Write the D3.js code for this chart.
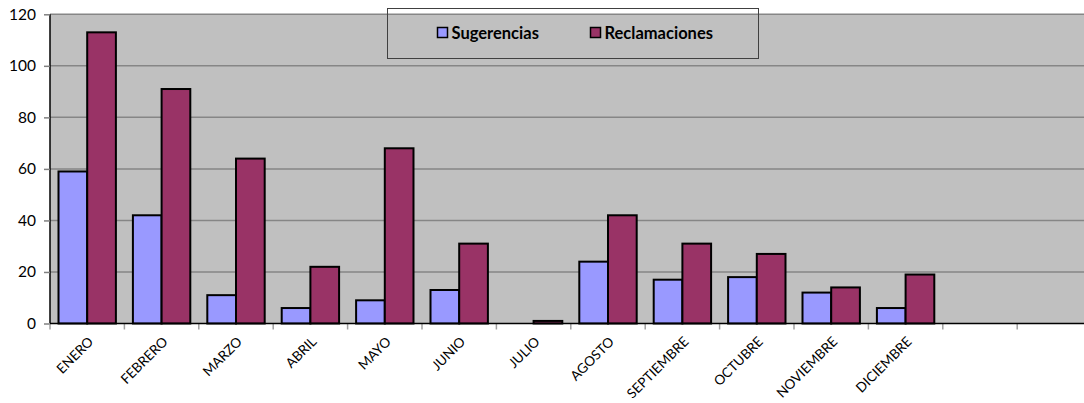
<!DOCTYPE html>
<html><head><meta charset="utf-8">
<script src="https://cdn.jsdelivr.net/npm/d3@7"></script>
<style>body{margin:0;background:#fff}svg{display:block}text{font-family:Lato,"Open Sans",sans-serif}</style>
</head><body><svg id="c" width="1084" height="403"></svg>
<script>
const categories = ["ENERO","FEBRERO","MARZO","ABRIL","MAYO","JUNIO","JULIO","AGOSTO","SEPTIEMBRE","OCTUBRE","NOVIEMBRE","DICIEMBRE","",""];
const sugerencias = [59,42,11,6,9,13,0,24,17,18,12,6,null,null];
const reclamaciones = [113,91,64,22,68,31,1,42,31,27,14,19,null,null];
const seriesNames = ["Sugerencias","Reclamaciones"];
const seriesColors = ["#9999FF","#993366"];
const yTicks = [0,20,40,60,80,100,120];

(function(){
const svg = d3.select("#c");
const pL = 50, pR = 1091.6, pT = 14.3, pB = 323.5;
const keys = categories.map((c,i)=>"c"+i);
const x = d3.scaleBand().domain(keys).range([pL,pR]).paddingInner(0.2286).paddingOuter(0.1143);
const xc = d3.scaleBand().domain(keys).range([pL,pR]);
const x1 = d3.scaleBand().domain(seriesNames).range([0,x.bandwidth()]);
const y = d3.scaleLinear().domain([0,120]).range([pB,pT]);

svg.append("rect").attr("x",pL).attr("y",pT).attr("width",pR-pL).attr("height",pB-pT).attr("fill","#C0C0C0");
svg.append("g").selectAll("line").data(yTicks.filter(d=>d>0)).join("line")
  .attr("x1",pL).attr("x2",pR).attr("y1",d=>y(d)).attr("y2",d=>y(d))
  .attr("stroke","#868686").attr("stroke-width",1.5);

const data = [sugerencias,reclamaciones];
data.forEach((vals,si)=>{
  svg.append("g").selectAll("rect").data(vals.map((v,i)=>({v,i})).filter(d=>d.v!==null && d.v>0)).join("rect")
    .attr("x",d=>x(keys[d.i])+x1(seriesNames[si]))
    .attr("y",d=>y(d.v))
    .attr("width",x1.bandwidth())
    .attr("height",d=>pB-y(d.v))
    .attr("fill",seriesColors[si]).attr("stroke","#000").attr("stroke-width",2);
});

const ya = svg.append("g").attr("transform",`translate(${pL},0)`)
  .call(d3.axisLeft(y).tickValues(yTicks).tickSize(6).tickPadding(8));
ya.select(".domain").attr("stroke","#000").attr("stroke-width",1.5).attr("d",`M0,${pT}V${pB}`);
ya.selectAll(".tick line").attr("stroke","#808080").attr("stroke-width",1.5);
ya.selectAll("text").attr("font-size",15.5).attr("fill","#000");

svg.append("g").selectAll("line").data(keys.concat(["end"])).join("line")
  .attr("x1",(d,i)=>pL+i*xc.step()).attr("x2",(d,i)=>pL+i*xc.step())
  .attr("y1",pB).attr("y2",pB+6).attr("stroke","#A0A0A0").attr("stroke-width",1.5);
svg.append("line").attr("x1",pL).attr("x2",pR).attr("y1",pB).attr("y2",pB).attr("stroke","#000").attr("stroke-width",1.5);
svg.append("g").selectAll("text").data(categories).join("text")
  .attr("transform",(d,i)=>`translate(${xc(keys[i])+xc.bandwidth()/2+7},${pB+19}) rotate(-45)`)
  .attr("text-anchor","end").attr("font-size",13.5).attr("fill","#000").text(d=>d);

const lg = svg.append("g");
lg.append("rect").attr("x",387.5).attr("y",8.5).attr("width",371).attr("height",50)
  .attr("fill","none").attr("stroke","#404040").attr("stroke-width",1);
const legX = [437.5,590.5];
seriesNames.forEach((n,i)=>{
  lg.append("rect").attr("x",legX[i]).attr("y",27.5).attr("width",10).attr("height",10)
    .attr("fill",seriesColors[i]).attr("stroke","#000").attr("stroke-width",1.5);
  lg.append("text").attr("x",legX[i]+14).attr("y",38.5).attr("font-size",16.5).attr("font-weight","bold").attr("fill","#000").text(n);
});
})();
</script></body></html>
